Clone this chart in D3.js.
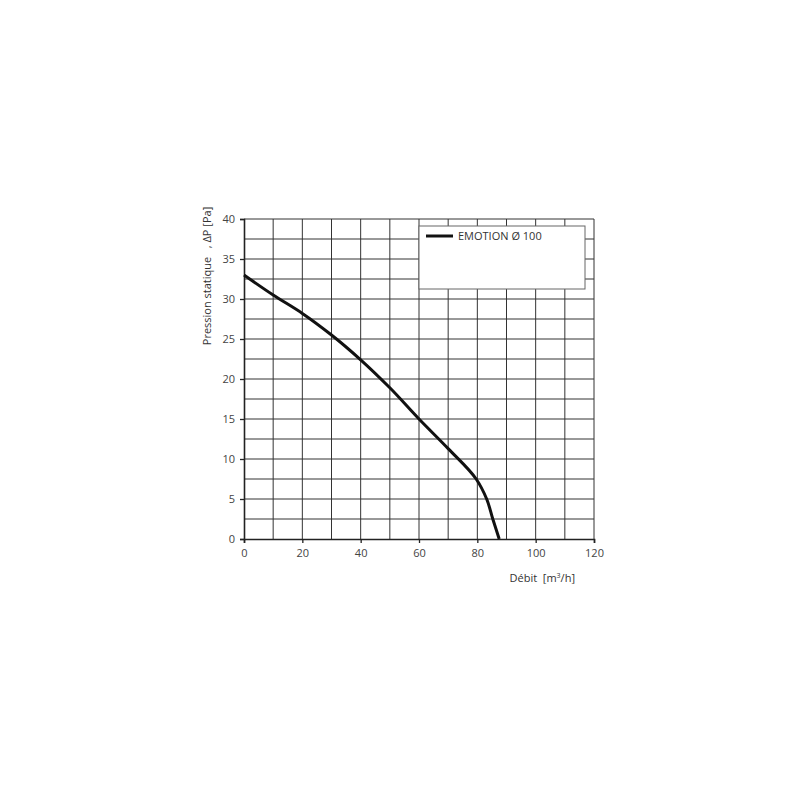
<!DOCTYPE html>
<html><head><meta charset="utf-8">
<script src="https://cdn.jsdelivr.net/npm/d3@7"></script>
<style>body{margin:0;background:#fff} text{white-space:pre}</style>
</head><body><svg id="c" width="800" height="800"></svg>
<script>
const flow = [0,10,20,30,40,50,60,70,79.6,83.2,85.3,87.5];
const pressure = [33,30.5,28.2,25.5,22.4,18.9,15,11.3,7.5,5,2.5,0];
const xTicks = [0,20,40,60,80,100,120];
const yTicks = [0,5,10,15,20,25,30,35,40];
const seriesName = "EMOTION Ø 100";

const svg = d3.select("#c");
const m = {l:244, r:594, t:219, b:539};
const x = d3.scaleLinear().domain([0,120]).range([m.l,m.r]);
const y = d3.scaleLinear().domain([0,40]).range([m.b,m.t]);
const font = "'Open Sans', 'DejaVu Sans', sans-serif";

const g = svg.append("g");
g.selectAll(".vg").data(d3.range(10,121,10)).join("line")
  .attr("x1",d=>x(d)).attr("x2",d=>x(d)).attr("y1",m.t).attr("y2",m.b)
  .attr("stroke","#333").attr("stroke-width",1);
g.selectAll(".hg").data(d3.range(2.5,40.1,2.5)).join("line")
  .attr("x1",m.l).attr("x2",m.r).attr("y1",d=>y(d)).attr("y2",d=>y(d))
  .attr("stroke","#333").attr("stroke-width",1);

const xa = svg.append("g").attr("transform",`translate(0,${m.b})`)
  .call(d3.axisBottom(x).tickValues(xTicks).tickSize(4).tickPadding(6));
const ya = svg.append("g").attr("transform",`translate(${m.l},0)`)
  .call(d3.axisLeft(y).tickValues(yTicks).tickSize(4).tickPadding(5));
[xa,ya].forEach(a=>{
  a.select(".domain").attr("stroke","#222").attr("stroke-width",1.6);
  a.selectAll(".tick line").attr("stroke","#222").attr("stroke-width",1.3);
  a.selectAll("text").attr("font-family",font).attr("font-size",11).attr("fill","#444");
});

const pts = flow.map((f,i)=>[f,pressure[i]]);
svg.append("path").datum(pts)
  .attr("d", d3.line().x(d=>x(d[0])).y(d=>y(d[1])).curve(d3.curveMonotoneY))
  .attr("fill","none").attr("stroke","#111").attr("stroke-width",3);

const lg = svg.append("g");
lg.append("rect").attr("x",419).attr("y",226).attr("width",166).attr("height",63)
  .attr("fill","#fff").attr("stroke","#666").attr("stroke-width",1);
lg.append("line").attr("x1",426).attr("x2",453).attr("y1",236).attr("y2",236)
  .attr("stroke","#111").attr("stroke-width",3);
lg.append("text").attr("x",458).attr("y",240).text(seriesName)
  .attr("font-family",font).attr("font-size",11).attr("fill","#333");

svg.append("text").attr("transform","translate(211,276) rotate(-90)")
  .attr("text-anchor","middle").attr("font-family",font).attr("font-size",11).attr("fill","#333")
  .text("Pression statique   , ΔP [Pa]");
const xt = svg.append("text").attr("x",575).attr("y",582).attr("text-anchor","end")
  .attr("font-family",font).attr("font-size",11).attr("fill","#333");
xt.append("tspan").text("Débit  [m");
xt.append("tspan").attr("dy",-4).attr("font-size",7).text("3");
xt.append("tspan").attr("dy",4).text("/h]");
</script></body></html>
